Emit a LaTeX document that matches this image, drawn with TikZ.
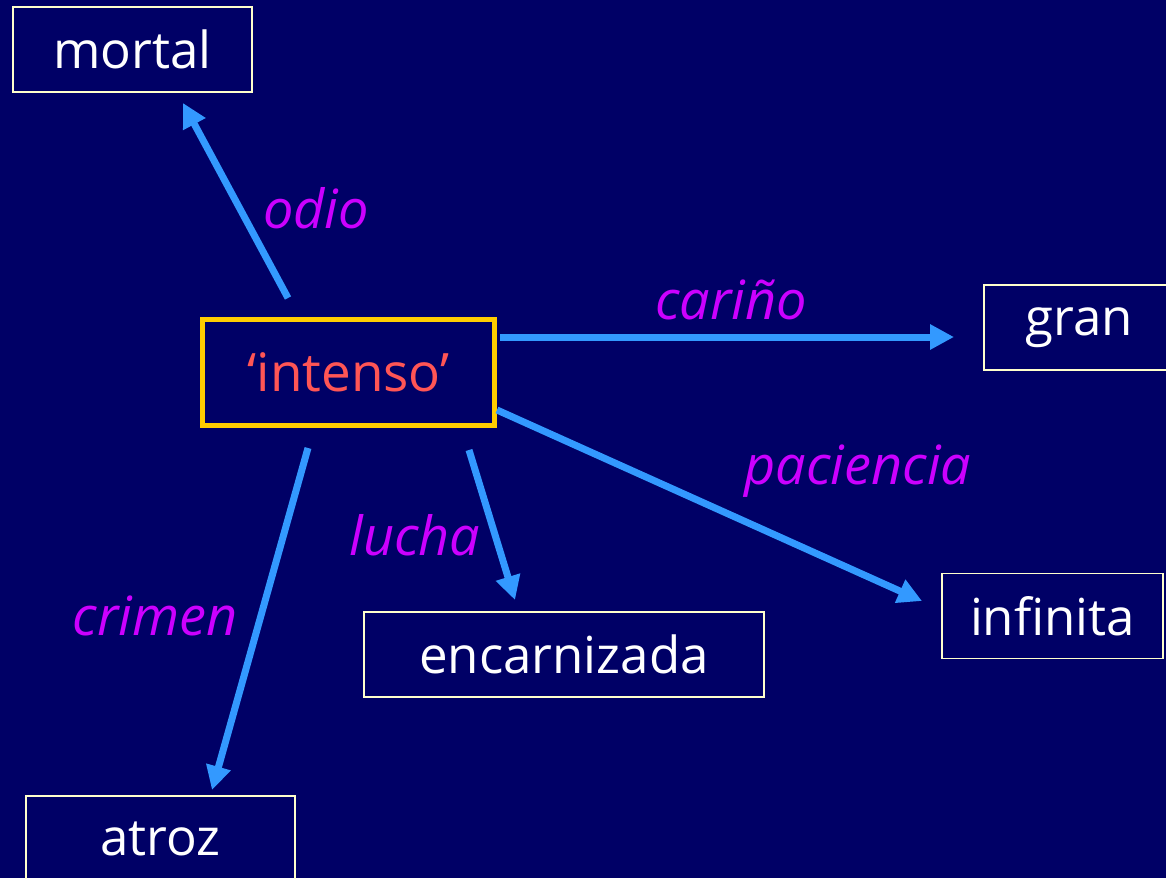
\documentclass[tikz,border=0pt]{standalone}
\usepackage{fontspec}
\setmainfont{Open Sans}
\usepackage{tikz}
\usetikzlibrary{calc,positioning,arrows.meta}
\definecolor{navy}{HTML}{000066}
\definecolor{arrowblue}{HTML}{3399FF}
\definecolor{relmag}{HTML}{CC00FF}
\definecolor{headred}{HTML}{FF5555}
\definecolor{headyellow}{HTML}{FFCC00}
\definecolor{cream}{HTML}{FFFFCC}
\tikzset{
    word/.style={rectangle, draw=cream, line width=1.5pt, text=white, minimum height=85pt, text centered, font=\fontsize{51}{60}\selectfont},
    head/.style={rectangle, draw=headyellow, line width=5pt, text=headred, minimum width=292pt, minimum height=106pt, text centered, font=\fontsize{53}{62}\selectfont},
    rel/.style={text=relmag, font=\fontsize{54}{62}\selectfont\itshape},
    line/.style={-{Triangle[length=24pt,width=24pt]}, line width=7pt, draw=arrowblue},
}
\begin{document}
\begin{tikzpicture}[x=1pt,y=-1pt]
        % Background
        \fill[navy] (0,0) rectangle (1166,878);
        \useasboundingbox (0,0) rectangle (1166,878);

        % Central word
        \node[head] (intenso) at (348.5,372.5) {‘intenso’};

        % Collocates
        \node[word, minimum width=239pt] (mortal) at (132.5,49.5) {mortal};
        \node[word, minimum width=190pt] (gran) at (1079,327.5) {gran};
        \node[word, minimum width=221pt] (infinita) at (1052.5,616) {infinita};
        \node[word, minimum width=400pt] (encarnizada) at (564,654.5) {encarnizada};
        \node[word, minimum width=269pt] (atroz) at (160.5,838.5) {atroz};

        % Arrow ends
        \coordinate (odioS) at (288,298);
        \coordinate (odioE) at (183,103);
        \coordinate (carS) at (500,337);
        \coordinate (carE) at (954,337);
        \coordinate (pacS) at (497,410);
        \coordinate (pacE) at (922,601);
        \coordinate (luchaS) at (469,450);
        \coordinate (luchaE) at (515,600);
        \coordinate (crimS) at (308,448);
        \coordinate (crimE) at (212,790);

        % Arrows
        \draw[line] (odioS) -- (odioE);
        \draw[line] (carS) -- (carE);
        \draw[line] (pacS) -- (pacE);
        \draw[line] (luchaS) -- (luchaE);
        \draw[line] (crimS) -- (crimE);

        % Labels
        \node[rel] (odio) at (316,208) {odio};
        \node[rel] (carino) at (731,300) {cariño};
        \node[rel] (paciencia) at (858,471) {paciencia};
        \node[rel] (lucha) at (415,535) {lucha};
        \node[rel] (crimen) at (155,616) {crimen};
    \end{tikzpicture}
\end{document}
